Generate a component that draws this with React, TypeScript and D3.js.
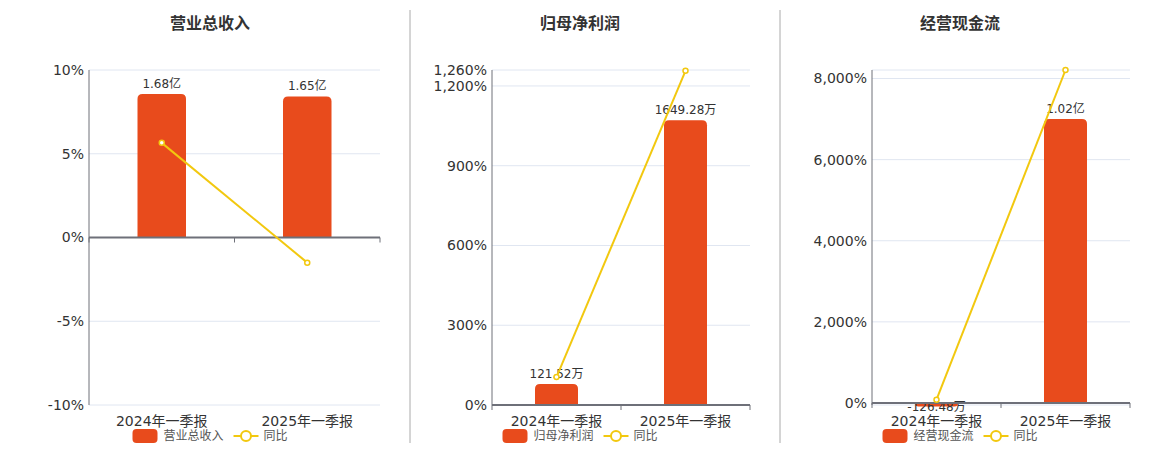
import React, { useEffect, useRef } from "react";
import * as d3 from "d3";

// categories shared by all three panels
const categories = ["2024年一季报", "2025年一季报"];

// 营业总收入 (亿)
const revenueValues = [1.68, 1.65];
const revenueLabels = ["1.68亿", "1.65亿"];
const revenueYoy = [5.65, -1.5];
const revenueTicks = [-10, -5, 0, 5, 10];

// 归母净利润 (万)
const profitValues = [121.52, 1649.28];
const profitLabels = ["121.52万", "1649.28万"];
const profitYoy = [105, 1257];
const profitTicks = [0, 300, 600, 900, 1200, 1260];

// 经营现金流 (万)
const cashValues = [-126.48, 10200];
const cashLabels = ["-126.48万", "1.02亿"];
const cashYoy = [80, 8210];
const cashTicks = [0, 2000, 4000, 6000, 8000];

const BAR = "#E84B1C";
const LINE = "#F2C80F";
const FONT = "'DejaVu Sans', 'Noto Sans CJK SC', sans-serif";

type Panel = {
    title: string;
    values: number[];
    labels: string[];
    yoy: number[];
    ticks: number[];
    pctDomain: [number, number];
    barDomain: [number, number];
    left: number;
    right: number;
    center: number;
    extraGrid?: number[];
};

const panels: Panel[] = [
    {
        title: "营业总收入", values: revenueValues, labels: revenueLabels, yoy: revenueYoy,
        ticks: revenueTicks, pctDomain: [-10, 10], barDomain: [-1.96, 1.96],
        left: 89, right: 380, center: 210,
    },
    {
        title: "归母净利润", values: profitValues, labels: profitLabels, yoy: profitYoy,
        ticks: profitTicks, pctDomain: [0, 1260], barDomain: [0, 1940],
        left: 492, right: 750, center: 580,
    },
    {
        title: "经营现金流", values: cashValues, labels: cashLabels, yoy: cashYoy,
        ticks: cashTicks, pctDomain: [-50, 8210], barDomain: [-72, 11960],
        left: 872, right: 1130, center: 960, extraGrid: [8210],
    },
];

const TOP = 70;
const BOTTOM = 405;

export default function App() {
    const svgRef = useRef<SVGSVGElement | null>(null);

    useEffect(() => {
        if (!svgRef.current) return;
        const svg = d3.select(svgRef.current);
        svg.selectAll("*").remove();

        // divider lines between panels
        [410, 780].forEach((x) => {
            svg.append("line")
                .attr("x1", x).attr("x2", x)
                .attr("y1", 10).attr("y2", 443)
                .attr("stroke", "#aaaaaa").attr("stroke-width", 1);
        });

        panels.forEach((p) => {
            const g = svg.append("g");

            const x = d3.scaleBand<string>()
                .domain(categories)
                .range([p.left, p.right]);

            const yPct = d3.scaleLinear().domain(p.pctDomain).range([BOTTOM, TOP]);
            const yBar = d3.scaleLinear().domain(p.barDomain).range([BOTTOM, TOP]);
            const zeroY = yPct(0);

            // title
            g.append("text")
                .attr("x", p.center).attr("y", 29)
                .attr("text-anchor", "middle")
                .attr("font-size", 16).attr("font-weight", "bold")
                .attr("fill", "#333")
                .attr("font-family", FONT)
                .text(p.title);

            // gridlines
            const gridVals = [...p.ticks, ...(p.extraGrid ?? [])];
            if (p.pctDomain[0] < 0 && !gridVals.includes(p.pctDomain[0])) gridVals.push(p.pctDomain[0]);
            gridVals.forEach((v) => {
                g.append("line")
                    .attr("x1", p.left).attr("x2", p.right)
                    .attr("y1", yPct(v)).attr("y2", yPct(v))
                    .attr("stroke", "#E0E6F1").attr("stroke-width", 1);
            });

            // y axis tick labels
            const fmt = d3.format(",");
            p.ticks.forEach((v) => {
                g.append("text")
                    .attr("x", p.left - 5).attr("y", yPct(v))
                    .attr("dy", "0.35em")
                    .attr("text-anchor", "end")
                    .attr("font-size", 14)
                    .attr("fill", "#333")
                    .attr("font-family", FONT)
                    .text(fmt(v).replace("\u2212", "-") + "%");
            });

            // y axis line
            g.append("line")
                .attr("x1", p.left).attr("x2", p.left)
                .attr("y1", TOP).attr("y2", BOTTOM)
                .attr("stroke", "#6E7079").attr("stroke-width", 1);

            // bars with rounded top corners
            const bw = x.bandwidth() / 3;
            p.values.forEach((v, i) => {
                const cx = (x(categories[i]) ?? 0) + x.bandwidth() / 2;
                const x0 = cx - bw / 2;
                const yv = yBar(v);
                const y0 = yBar(0);
                const r = Math.min(5, Math.abs(y0 - yv));
                let d: string;
                if (v >= 0) {
                    d = `M${x0},${y0}V${yv + r}Q${x0},${yv} ${x0 + r},${yv}H${x0 + bw - r}Q${x0 + bw},${yv} ${x0 + bw},${yv + r}V${y0}Z`;
                } else {
                    d = `M${x0},${y0}V${yv - r}Q${x0},${yv} ${x0 + r},${yv}H${x0 + bw - r}Q${x0 + bw},${yv} ${x0 + bw},${yv - r}V${y0}Z`;
                }
                g.append("path").attr("d", d).attr("fill", BAR);

                g.append("text")
                    .attr("x", cx)
                    .attr("y", v >= 0 ? yv - 6 : y0 + 8)
                    .attr("text-anchor", "middle")
                    .attr("font-size", 12)
                    .attr("fill", "#333")
                    .attr("font-family", FONT)
                    .text(p.labels[i]);
            });

            // x axis line at zero
            g.append("line")
                .attr("x1", p.left).attr("x2", p.right)
                .attr("y1", zeroY).attr("y2", zeroY)
                .attr("stroke", "#6E7079").attr("stroke-width", 2);
            [p.left, p.left + x.bandwidth(), p.right].forEach((tx) => {
                g.append("line")
                    .attr("x1", tx).attr("x2", tx)
                    .attr("y1", zeroY).attr("y2", zeroY + 5)
                    .attr("stroke", "#6E7079").attr("stroke-width", 1);
            });

            // category labels
            categories.forEach((c) => {
                g.append("text")
                    .attr("x", (x(c) ?? 0) + x.bandwidth() / 2)
                    .attr("y", 426)
                    .attr("text-anchor", "middle")
                    .attr("font-size", 14)
                    .attr("fill", "#333")
                    .attr("font-family", FONT)
                    .text(c);
            });

            // yoy line
            const pts = p.yoy.map((v, i) => [(x(categories[i]) ?? 0) + x.bandwidth() / 2, yPct(v)] as [number, number]);
            g.append("path")
                .attr("d", d3.line()(pts))
                .attr("fill", "none")
                .attr("stroke", LINE)
                .attr("stroke-width", 2);
            pts.forEach(([px, py]) => {
                g.append("circle")
                    .attr("cx", px).attr("cy", py).attr("r", 2.5)
                    .attr("fill", "#fff").attr("stroke", LINE).attr("stroke-width", 1.5);
            });

            // legend
            const nameW = p.title.length * 12;
            const total = 25 + 6 + nameW + 10 + 25 + 5 + 24;
            let lx = p.center - total / 2;
            const ly = 436;
            g.append("rect")
                .attr("x", lx).attr("y", ly - 7)
                .attr("width", 25).attr("height", 14)
                .attr("rx", 4)
                .attr("fill", BAR);
            lx += 31;
            g.append("text")
                .attr("x", lx).attr("y", ly).attr("dy", "0.35em")
                .attr("font-size", 12).attr("fill", "#555")
                .attr("font-family", FONT)
                .text(p.title);
            lx += nameW + 10;
            g.append("line")
                .attr("x1", lx).attr("x2", lx + 25)
                .attr("y1", ly).attr("y2", ly)
                .attr("stroke", LINE).attr("stroke-width", 2);
            g.append("circle")
                .attr("cx", lx + 12.5).attr("cy", ly).attr("r", 5)
                .attr("fill", "#fff").attr("stroke", LINE).attr("stroke-width", 2);
            lx += 30;
            g.append("text")
                .attr("x", lx).attr("y", ly).attr("dy", "0.35em")
                .attr("font-size", 12).attr("fill", "#555")
                .attr("font-family", FONT)
                .text("同比");
        });
    }, []);

    return (
        <svg
            ref={svgRef}
            width={1160}
            height={450}
            style={{ position: "absolute", left: 0, top: 0, background: "#fff" }}
        />
    );
}
